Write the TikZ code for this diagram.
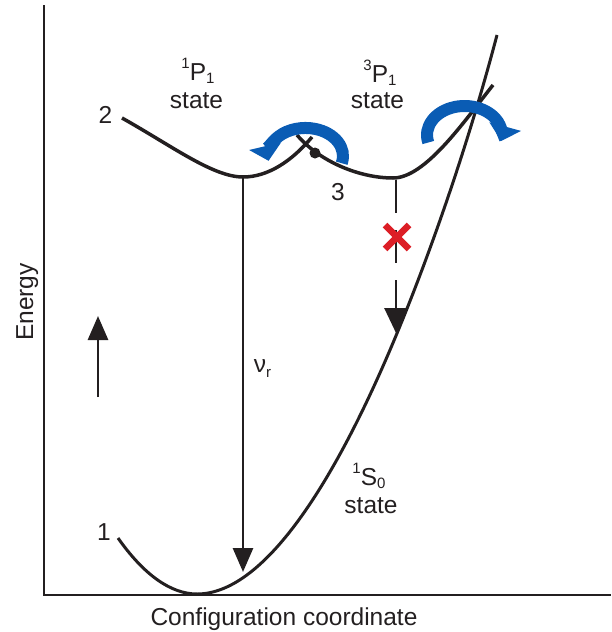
\documentclass[tikz,border=0pt]{standalone}
\usepackage{fontspec}
\setmainfont{Liberation Sans}
\usetikzlibrary{arrows.meta}
\definecolor{clrInk}{HTML}{231F20}
\definecolor{clrTurn}{HTML}{0A5CB4}
\definecolor{clrBlock}{HTML}{DC1E26}
\newcommand{\supidx}[1]{\raisebox{12pt}{\fontsize{15}{15}\selectfont #1}}
\newcommand{\subidx}[1]{\raisebox{-3pt}{\fontsize{15}{15}\selectfont #1}}
\tikzset{
  curve/.style = {draw=clrInk, line width=3.5pt},
  axis/.style = {draw=clrInk, line width=2.8pt},
  arrow/.style = {-{Triangle[length=24pt, width=20pt]}, draw=clrInk, line width=2.8pt},
  darrow/.style = {-{Triangle[length=25pt, width=23pt]}, draw=clrInk, line width=2.8pt,
                   dash pattern=on 33pt off 17pt},
  turn/.style = {-{Triangle[length=15pt, width=32pt]}, draw=clrTurn, line width=12pt},
  label/.style = {font=\fontsize{24.5}{29}\selectfont, text=clrInk, inner sep=0pt, anchor=base},
}

\begin{document}
\begin{tikzpicture}[x=1pt, y=-1pt,
  dot/.style = {fill=clrInk},
  block/.style = {draw=clrBlock, line width=6.5pt},
]
\useasboundingbox (0,0) rectangle (611,632);

% Axes
\draw[axis] (44,5) -- (44,595) -- (611,595);
\node[label, rotate=90] (energy) at (33,302) {Energy};
\node[label] (config) at (284,625) {Configuration coordinate};
\coordinate (upTail) at (98,397);
\coordinate (upTip) at (98,316);
\draw[arrow] (upTail) -- (upTip);

% Ground state 1S0
\draw[curve, line width=3pt] (118,538) .. controls (144,575) and (171,594) .. (197,594)
  .. controls (267,594) and (340,473) .. (400,326)
  .. controls (430,252.5) and (467,149) .. (497,35);

% Excited states 1P1 and 3P1
\draw[curve] (122,118) .. controls (172,146) and (213,177) .. (243,177)
  .. controls (268,177) and (292,161) .. (312,137);
\draw[curve] (297,135) .. controls (320,162) and (360,178) .. (393,178)
  .. controls (425,178) and (463,123) .. (493,85);
\coordinate (cross) at (315,153);
\fill[dot] (cross) circle (5.5);

% Transitions
\coordinate (pMin) at (243,177);
\coordinate (sHit) at (243,572);
\draw[arrow] (pMin) -- (sHit);
\coordinate (tMin) at (396,180);
\coordinate (tHit) at (396,333);
\draw[darrow] (tMin) -- (tHit);
\coordinate (stop) at (397,237);
\draw[block] (stop) ++(-12,-12) -- ++(24,24);
\draw[block] (stop) ++(-12,12) -- ++(24,-24);

% Crossing arrows
\coordinate (turnA) at (341.7,163.2);
\draw[turn] (turnA) arc[start angle=15, end angle=-190, x radius=37.5, y radius=28];
\coordinate (turnB) at (428.3,142.5);
\draw[turn] (turnB) arc[start angle=165, end angle=372, x radius=37.5, y radius=29];

% Labels
\node[label] (lbl2) at (105.5,123) {2};
\node[label] (lbl1) at (104,540) {1};
\node[label] (lbl3) at (338,200) {3};
\node[label] (pSinglet) at (198,80) {\supidx{1}P\subidx{1}};
\node[label] (pSingletState) at (196.5,108) {state};
\node[label] (pTriplet) at (380,82) {\supidx{3}P\subidx{1}};
\node[label] (pTripletState) at (377.5,108) {state};
\node[label] (sGround) at (369,485) {\supidx{1}S\subidx{0}};
\node[label] (sGroundState) at (371,513) {state};
\node[label] (nuR) at (262.5,372) {ν\raisebox{-5pt}{\fontsize{15}{15}\selectfont r}};
\end{tikzpicture}
\end{document}
